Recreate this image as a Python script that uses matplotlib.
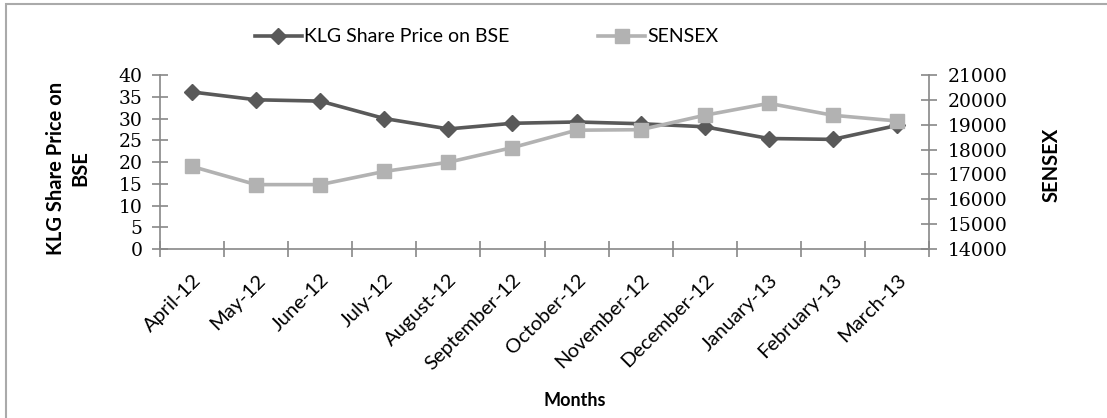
import numpy as np
import matplotlib
matplotlib.use("Agg")
import matplotlib.pyplot as plt
from matplotlib.patches import Rectangle

months = ["April-12", "May-12", "June-12", "July-12", "August-12", "September-12",
          "October-12", "November-12", "December-12", "January-13", "February-13", "March-13"]
klg_price = [36.1, 34.3, 34.0, 30.0, 27.6, 28.9, 29.2, 28.8, 28.1, 25.4, 25.2, 28.4]
sensex = [17320, 16590, 16590, 17120, 17490, 18080, 18780, 18800, 19380, 19860, 19380, 19150]

dark = "#595959"
light = "#b2b2b2"
axcol = "#888888"
txt = "Lato"
num = "DejaVu Serif"

W, H = 1107, 418
fig = plt.figure(figsize=(W / 100, H / 100), dpi=100)
fig.patches.append(Rectangle((6 / W, -0.1), 1.2, 0.1 + 1 - 4 / H, transform=fig.transFigure,
                             fill=False, edgecolor="#aaaaaa", linewidth=1.5))

ax = fig.add_axes([160 / W, 1 - 249 / H, (929 - 160) / W, (249 - 75) / H])
ax2 = ax.twinx()

x = np.arange(len(months))
l1, = ax.plot(x, klg_price, color=dark, lw=2.6, marker="D", ms=8, label="KLG Share Price on BSE")
l2, = ax2.plot(x, sensex, color=light, lw=2.6, marker="s", ms=10.5, label="SENSEX")

ax.set_xlim(-0.5, len(months) - 0.5)
ax.set_ylim(0, 40)
ax.set_yticks(range(0, 41, 5))
ax2.set_ylim(14000, 21000)
ax2.set_yticks(range(14000, 21001, 1000))

ax.set_xticks(x)
ax.set_xticklabels(months, rotation=45, ha="right", rotation_mode="anchor",
                   fontsize=14.5, family=txt)
ax.set_xticks(np.arange(-0.5, len(months)), minor=True)
ax.tick_params(axis="x", which="major", length=0, pad=16)
ax.tick_params(axis="x", which="minor", length=11, direction="inout", color=axcol, width=1.2)
ax.tick_params(axis="y", length=11, direction="inout", color=axcol, width=1.2, pad=7)
ax2.tick_params(axis="y", length=11, direction="inout", color=axcol, width=1.2, pad=8)
for lab in ax.get_yticklabels() + ax2.get_yticklabels():
    lab.set_family(num)
    lab.set_fontsize(13.5)

for a in (ax, ax2):
    for s in a.spines.values():
        s.set_visible(False)
ax.spines["left"].set_visible(True)
ax.spines["bottom"].set_visible(True)
ax2.spines["right"].set_visible(True)
for s in (ax.spines["left"], ax.spines["bottom"], ax2.spines["right"]):
    s.set_color(axcol)
    s.set_linewidth(1.2)

fig.text(68 / W, 1 - 168 / H, "KLG Share Price on\nBSE", rotation=90, ha="center", va="center",
         fontsize=14.5, fontweight="bold", family=txt, linespacing=1.25)
fig.text(1052 / W, 1 - 165 / H, "SENSEX", rotation=90, ha="center", va="center",
         fontsize=14.5, fontweight="bold", family=txt)
fig.text(575 / W, 1 - 400 / H, "Months", ha="center", va="center",
         fontsize=13, fontweight="bold", family=txt)

fig.legend(handles=[l1, l2], loc="center left", bbox_to_anchor=(255 / W, 1 - 37 / H), ncol=2,
           frameon=False, prop={"family": txt, "size": 14}, handlelength=2.4, handletextpad=0.1,
           columnspacing=4.6, borderpad=0, borderaxespad=0)

fig.savefig("out.png", dpi=100)
